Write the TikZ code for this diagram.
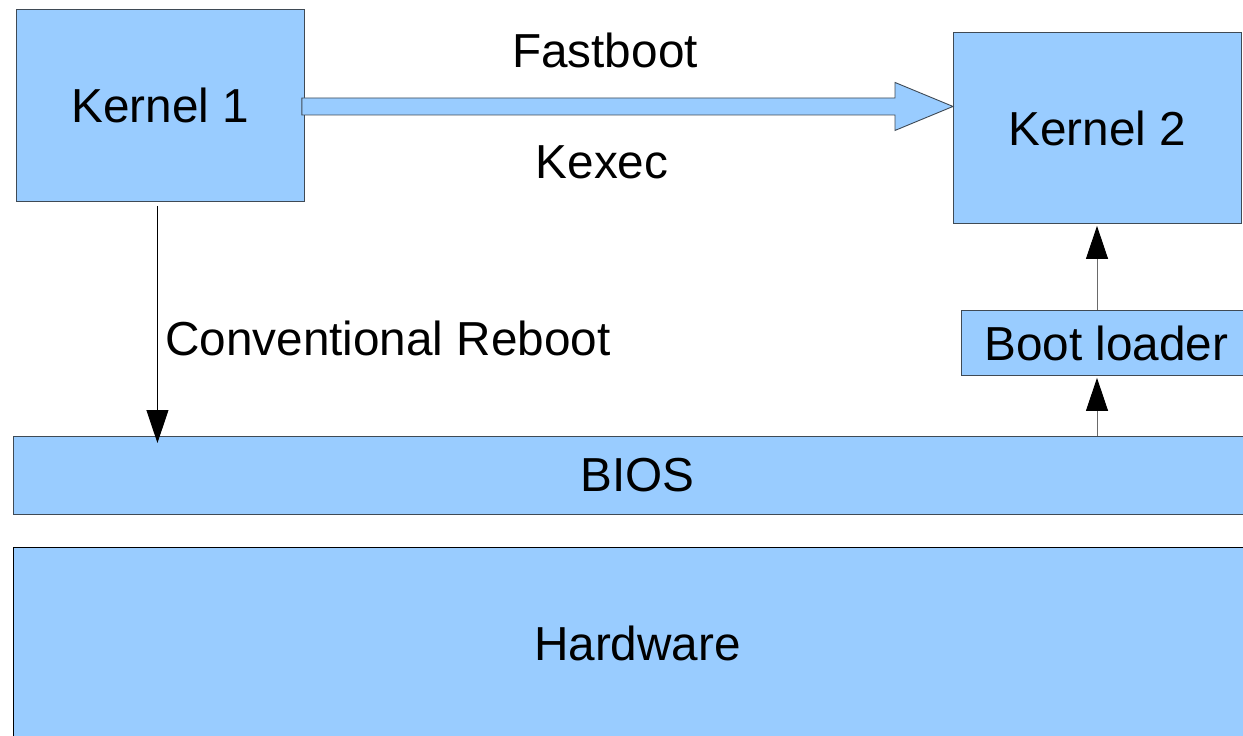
\documentclass[tikz,border=0pt]{standalone}
\usepackage{fontspec}
\setmainfont{Liberation Sans}
\usetikzlibrary{arrows.meta,calc}
\definecolor{skyfill}{HTML}{99CCFF}
\definecolor{edge}{HTML}{3F4A55}
\definecolor{wire}{HTML}{6A6A6A}
\newcommand{\labelfont}{\fontsize{47.7}{56}\selectfont}
\begin{document}
\begin{tikzpicture}[x=1pt,y=-1pt,
  box/.style={draw=edge, fill=skyfill, line width=0.9pt, inner sep=0pt,
    anchor=north west, font=\labelfont},
  caption/.style={font=\labelfont, inner sep=0pt},
  downlink/.style={draw=black, line width=0.9pt,
    -{Triangle[length=33pt,width=22pt]}},
  uplink/.style={draw=wire, line width=1pt,
    -{Triangle[length=33pt,width=22pt,color=black]}},
  fatarrow/.style={draw=edge, fill=skyfill, line width=0.9pt, line join=miter}]
\useasboundingbox (0,0) rectangle (1243,736);
\clip (0,0) rectangle (1243,736);

% boxes
\node[box, minimum width=288pt, minimum height=192pt] (k1) at (16,9) {Kernel 1};
\node[box, minimum width=288pt, minimum height=191pt] (k2) at (953,32) {Kernel 2};
\node[box, minimum width=290pt, minimum height=65pt] (bl) at (961,310) {Boot loader};
\node[box, minimum width=1248pt, minimum height=78pt] (bios) at (13,436) {BIOS};
\node[box, draw=black, minimum width=1248pt, minimum height=192pt] (hw) at (13,547) {Hardware};

% fastboot / kexec jump
\coordinate (fs) at ($(k1.east)+(-3,1)$);
\coordinate (ft) at (k2.west |- fs);
\draw[fatarrow] ($(fs)+(0,-8.5)$) -- ($(ft)+(-58,-8.5)$) -- ($(ft)+(-58,-24)$)
  -- (ft) -- ($(ft)+(-58,24)$) -- ($(ft)+(-58,8.5)$) -- ($(fs)+(0,8.5)$) -- cycle;
\node[caption] (fb) at (605,50) {Fastboot};
\node[caption] (kx) at (602,162) {Kexec};

% conventional reboot path
\coordinate (rs) at ($(k1.south)+(-3,4)$);
\draw[downlink] (rs) -- ($(rs |- bios.north)+(0,7)$);
\node[caption, anchor=west] (cr) at (165,338) {Conventional Reboot};

% boot chain on the right
\coordinate (bx) at (1097,0);
\draw[uplink] (bx |- bios.north) -- ($(bx |- bl.south)+(0,2)$);
\draw[uplink] (bx |- bl.north) -- ($(bx |- k2.south)+(0,2)$);
\end{tikzpicture}
\end{document}
